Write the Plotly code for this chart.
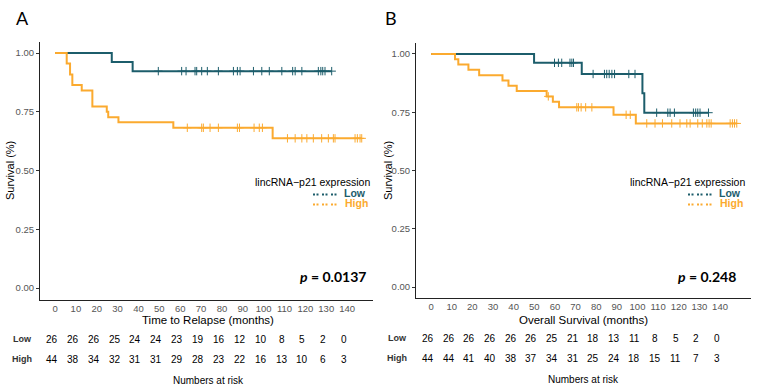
import plotly.graph_objects as go

W, H = 759, 389

# ---------------- Data ----------------
time_ticks = [0, 10, 20, 30, 40, 50, 60, 70, 80, 90, 100, 110, 120, 130, 140]
y_ticks = [0.0, 0.25, 0.5, 0.75, 1.0]
y_tick_labels = ["0.00", "0.25", "0.50", "0.75", "1.00"]

# Panel A: time to relapse
a_low_t = [0, 27.2, 37.2]
a_low_s = [1.0, 0.962, 0.923]
a_low_end = 132.6
a_low_cens = [49.5, 60.7, 62.8, 67.1, 67.9, 70.3, 73.0, 78.3, 85.5, 87.4, 88.7, 95.1,
              99.1, 102.7, 108.7, 113.9, 115.1, 118.3, 126.2, 127.4, 128.3, 129.4, 132.6]
a_high_t = [0, 5.6, 7.2, 8.3, 12.8, 17.9, 24.8, 25.5, 30.4, 56.7, 104.3]
a_high_s = [1.0, 0.955, 0.909, 0.864, 0.841, 0.773, 0.750, 0.727, 0.705, 0.682, 0.637]
a_high_end = 147.0
a_high_cens = [63.4, 70.3, 71.1, 74.3, 78.3, 87.4, 88.4, 95.4, 97.9, 99.4, 111.4, 115.1,
               118.3, 120.7, 123.8, 127.8, 131.0, 133.4, 134.2, 143.8, 144.9, 146.2, 147.0]
a_risk_low = [26, 26, 26, 25, 24, 24, 23, 19, 16, 12, 10, 8, 5, 2, 0]
a_risk_high = [44, 38, 34, 32, 31, 31, 29, 28, 23, 22, 16, 13, 10, 6, 3]
a_p = "0.0137"
a_xtitle = "Time to Relapse (months)"

# Panel B: overall survival
b_low_t = [0, 49.9, 73.0, 102.4, 103.3]
b_low_s = [1.0, 0.962, 0.914, 0.831, 0.748]
b_low_end = 134.4
b_low_cens = [59.8, 61.7, 63.3, 67.3, 68.2, 69.0, 78.5, 84.0, 85.1, 86.3, 87.6, 88.9,
              95.8, 98.8, 109.3, 114.7, 115.8, 117.9, 127.1, 128.2, 129.2, 130.3, 134.4]
b_high_t = [0, 11.6, 13.2, 18.1, 23.3, 34.6, 37.5, 41.5, 56.0, 59.0, 62.0, 88.4, 99.2]
b_high_s = [1.0, 0.977, 0.955, 0.932, 0.909, 0.886, 0.864, 0.841, 0.818, 0.795, 0.771, 0.739, 0.702]
b_high_end = 148.1
b_high_cens = [56.8, 70.6, 71.4, 72.7, 74.9, 77.9, 94.5, 96.5, 104.5, 108.5, 112.1, 116.6,
               120.6, 123.9, 125.5, 129.2, 131.4, 133.6, 134.7, 135.7, 144.9, 146.0, 147.0, 148.1]
b_risk_low = [26, 26, 26, 26, 26, 26, 25, 21, 18, 13, 11, 8, 5, 2, 0]
b_risk_high = [44, 44, 41, 40, 38, 37, 34, 31, 25, 24, 18, 15, 11, 7, 3]
b_p = "0.248"
b_xtitle = "Overall Survival (months)"

group_names = ["Low", "High"]
TEAL = "#1C5D6B"
ORANGE = "#FBAA2F"
FONT = "Liberation Sans, Arial, sans-serif"
BOLDFONT = "Lato, Open Sans, sans-serif"


def step_xy(t, s, end):
    return list(t) + [end], list(s) + [s[-1]]


def s_at(t, s, x):
    v = s[0]
    for ti, si in zip(t, s):
        if ti <= x:
            v = si
    return v


def py(px):
    return 1 - px / H


def pxx(px):
    return px / W


def ann(text, x, y, size, color="black", family=FONT, xanchor="center", xref="paper", **kw):
    return dict(text=text, x=x, y=y, xref=xref, yref="paper", xanchor=xanchor, yanchor="middle",
                showarrow=False, borderpad=0, font=dict(family=family, size=size, color=color), **kw)


fig = go.Figure()

panels = [
    dict(xa="x", ya="y", low=(a_low_t, a_low_s, a_low_end, a_low_cens),
         high=(a_high_t, a_high_s, a_high_end, a_high_cens),
         rl=a_risk_low, rh=a_risk_high, p=a_p, xt=a_xtitle,
         dom_x=[40 / W, 373 / W], dom_y=[py(300), py(42)], xr=[-7.2, 152.4],
         yr=[-0.051, 1.047], letter="A", letter_x=22, ylab_x=10, xtitle_x=208,
         leg_r=371, leg_low_r=367, leg_dot=(313, 337), p_r=367, row_lab_x=22,
         low_y=339, high_y=359, nar_y=380),
    dict(xa="x2", ya="y2", low=(b_low_t, b_low_s, b_low_end, b_low_cens),
         high=(b_high_t, b_high_s, b_high_end, b_high_cens),
         rl=b_risk_low, rh=b_risk_high, p=b_p, xt=b_xtitle,
         dom_x=[416 / W, 751 / W], dom_y=[py(298), py(43)], xr=[-7.3, 155.0],
         yr=[-0.047, 1.047], letter="B", letter_x=391, ylab_x=388, xtitle_x=583,
         leg_r=746, leg_low_r=742, leg_dot=(688, 712), p_r=737, row_lab_x=397,
         low_y=338, high_y=358, nar_y=379),
]

annotations = []
shapes = []

for i, P in enumerate(panels):
    for grp, col in ((P["low"], TEAL), (P["high"], ORANGE)):
        t, s, end, cens = grp
        xs, ys = step_xy(t, s, end)
        fig.add_trace(go.Scatter(x=xs, y=ys, mode="lines", line=dict(color=col, width=2, shape="hv"),
                                 xaxis=P["xa"], yaxis=P["ya"], showlegend=False, hoverinfo="skip"))
        fig.add_trace(go.Scatter(x=cens, y=[s_at(t, s, c) for c in cens], mode="markers",
                                 marker=dict(symbol="cross-thin-open", size=6, color=col,
                                             line=dict(color=col, width=1)),
                                 xaxis=P["xa"], yaxis=P["ya"], showlegend=False, hoverinfo="skip"))

    ax_x = dict(domain=P["dom_x"], range=P["xr"], showline=True, linecolor="#222", linewidth=1,
                showgrid=False, zeroline=False, ticks="", tickvals=time_ticks, automargin=False,
                tickfont=dict(family=FONT, size=9.5, color="#555"), anchor=P["ya"])
    ax_y = dict(domain=P["dom_y"], range=P["yr"], showline=True, linecolor="#222", linewidth=1,
                showgrid=False, zeroline=False, ticks="outside", ticklen=3, tickcolor="#333",
                tickvals=y_ticks, ticktext=y_tick_labels, automargin=False,
                tickfont=dict(family=FONT, size=9.5, color="#555"), anchor=P["xa"])
    key = "" if i == 0 else "2"
    fig.update_layout(**{"xaxis" + key: ax_x, "yaxis" + key: ax_y})

    # panel letter
    annotations.append(ann(P["letter"], pxx(P["letter_x"]), py(18), 18, family=BOLDFONT))
    # axis titles
    annotations.append(ann("Survival (%)", pxx(P["ylab_x"]), py(171), 11, textangle=-90))
    annotations.append(ann(P["xt"], pxx(P["xtitle_x"]), py(320), 11.5))
    # legend
    annotations.append(ann("lincRNA\u2212p21 expression", pxx(P["leg_r"]), py(182), 10.5, xanchor="right"))
    for name, col, yy in ((group_names[0], TEAL, 193), (group_names[1], ORANGE, 203)):
        annotations.append(ann("<b>" + name + "</b>", pxx(P["leg_low_r"] + (2 if name == "High" else 0)),
                               py(yy), 10.5, color=col, xanchor="right"))
        shapes.append(dict(type="line", xref="paper", yref="paper", x0=pxx(P["leg_dot"][0]),
                           x1=pxx(P["leg_dot"][1]), y0=py(yy + 1.5), y1=py(yy + 1.5),
                           line=dict(color=col, width=2, dash="2px,1.5px,2px,3.5px")))
    # p value
    annotations.append(ann("<b><i>p</i> = " + P["p"] + "</b>", pxx(P["p_r"]), py(276), 14,
                           family=BOLDFONT, xanchor="right"))
    # risk table
    for name, vals, yy in ((group_names[0], P["rl"], P["low_y"]), (group_names[1], P["rh"], P["high_y"])):
        annotations.append(ann("<b>" + name + "</b>", pxx(P["row_lab_x"]), py(yy), 9, color="#333"))
        for tv, v in zip(time_ticks, vals):
            annotations.append(ann(str(v), tv, py(yy), 10, xref=P["xa"], xshift=-3))
    annotations.append(ann("Numbers at risk", pxx(P["xtitle_x"]), py(P["nar_y"]), 10))

fig.update_layout(width=W, height=H, margin=dict(l=0, r=0, t=0, b=0, autoexpand=False),
                  plot_bgcolor="white", paper_bgcolor="white", annotations=annotations,
                  shapes=shapes, showlegend=False)

fig.write_html("out.html", config={"displayModeBar": False},
               post_script="document.body.style.margin='0';document.body.style.overflow='hidden';")
